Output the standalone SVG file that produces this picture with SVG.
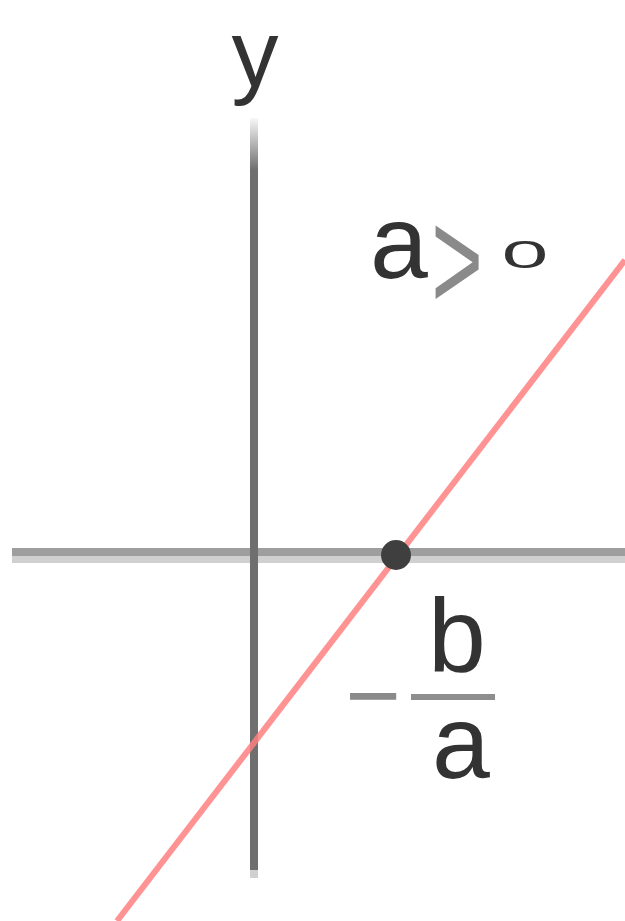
<svg xmlns="http://www.w3.org/2000/svg" width="625" height="921" viewBox="0 0 625 921">
<defs>
<linearGradient id="fadeY" x1="0" y1="118" x2="0" y2="170" gradientUnits="userSpaceOnUse">
<stop offset="0" stop-color="#6f6f6f" stop-opacity="0.05"/>
<stop offset="1" stop-color="#6f6f6f" stop-opacity="1"/>
</linearGradient>
<style>
.lbl{font-family:"Liberation Sans",Arial,sans-serif;fill:#333;}
.op{font-family:"Liberation Sans",Arial,sans-serif;fill:#8a8a8a;}
</style>
</defs>
<rect width="625" height="921" fill="#fff"/>
<g id="axes">
<rect x="12" y="548" width="613" height="8" fill="#9e9e9e"/>
<rect x="12" y="556" width="613" height="7" fill="#d0d0d0"/>
<rect x="250" y="118" width="8" height="752" fill="url(#fadeY)"/>
<rect x="250" y="170" width="8" height="700" fill="#6f6f6f"/>
<rect x="250" y="870" width="8" height="8" fill="#d0d0d0"/>
</g>
<g id="connectors">
<line x1="117" y1="921" x2="625" y2="260" stroke="#ff7f7f" stroke-width="6" stroke-opacity="0.85"/>
</g>
<g id="point">
<circle cx="396" cy="555" r="15" fill="#3f3f3f"/>
</g>
<g id="label-y">
<text class="lbl" x="255" y="86" font-size="94" text-anchor="middle">y</text>
</g>
<g id="label-cond">
<text class="lbl" x="399" y="278" font-size="104" text-anchor="middle">a</text>
<text class="op" x="0" y="0" font-size="104" text-anchor="middle" transform="translate(457,310) scale(0.85,1.4)">&gt;</text>
<text class="lbl" x="0" y="0" font-size="38" text-anchor="middle" transform="translate(525,268) scale(2.2,1)">0</text>
</g>
<g id="label-root">
<text class="op" x="373" y="728" font-size="95" text-anchor="middle">−</text>
<rect x="411" y="694" width="84" height="6" fill="#8e8e8e"/>
<text class="lbl" x="457" y="671" font-size="104" text-anchor="middle">b</text>
<text class="lbl" x="461" y="778" font-size="104" text-anchor="middle">a</text>
</g>
</svg>
